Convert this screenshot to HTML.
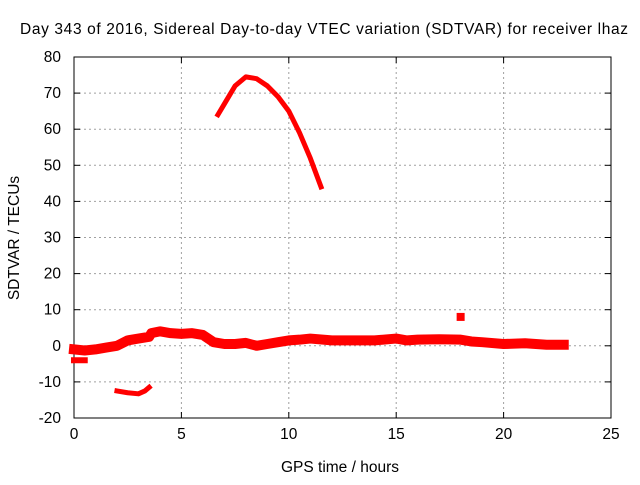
<!DOCTYPE html>
<html><head><meta charset="utf-8"><style>
body{margin:0;background:#fff}
svg text{font-family:"Liberation Sans",sans-serif;font-size:15.5px;fill:#000}
</style></head><body>
<svg id="c" width="640" height="480"></svg>
<script>
const xTicks=[0,5,10,15,20,25];
const yTicks=[-20,-10,0,10,20,30,40,50,60,70,80];
const bandHours=[0,0.5,1,1.5,2,2.5,3,3.5,3.6,4,4.5,5,5.5,6,6.5,7,7.5,8,8.5,9,9.5,10,10.5,11,12,13,14,15,15.5,16,17,18,18.5,19,20,21,22,22.8];
const bandValues=[-1,-1.3,-1,-0.5,0,1.5,2,2.5,3.5,4,3.5,3.3,3.5,3,1,0.5,0.5,0.8,0,0.5,1,1.5,1.7,2,1.5,1.5,1.5,2,1.5,1.7,1.8,1.7,1.2,1,0.5,0.7,0.3,0.3];
const lowHours=[0,0.5];
const lowValues=[-4,-4];
const dipHours=[2,2.5,3,3.3,3.5];
const dipValues=[-12.5,-13,-13.3,-12.5,-11.5];
const arcHours=[6.7,7,7.5,8,8.5,9,9.5,10,10.5,11,11.5];
const arcValues=[64,67,72,74.5,74,72,69,65,59,52,44];
const pointHours=[18];
const pointValues=[8];
const L=74,R=611,T=57,B=418;
const X=v=>L+(v-0)/25*(R-L);
const Y=v=>B-(v+20)/100*(B-T);
const s=document.getElementById('c');const NS='http://www.w3.org/2000/svg';
function el(t,a,p){const e=document.createElementNS(NS,t);for(const k in a)e.setAttribute(k,a[k]);(p||s).appendChild(e);return e;}
xTicks.forEach(v=>{
 if(v>0&&v<25){const g=el('line',{x1:X(v),x2:X(v),y1:T,y2:B,stroke:'#a0a0a0','stroke-dasharray':'2,3'});
 
 }
 el('line',{x1:X(v),x2:X(v),y1:B,y2:B-6,stroke:'#000'});el('line',{x1:X(v),x2:X(v),y1:T,y2:T+6,stroke:'#000'});
 const t=el('text',{x:X(v),y:B+21,'text-anchor':'middle'});t.textContent=v;
 
 
});
yTicks.forEach(v=>{
 if(v>-20&&v<80){const g=el('line',{x1:L,x2:R,y1:Y(v),y2:Y(v),stroke:'#a0a0a0','stroke-dasharray':'2,3'});
 
 }
 el('line',{x1:L,x2:L+6,y1:Y(v),y2:Y(v),stroke:'#000'});el('line',{x1:R,x2:R-6,y1:Y(v),y2:Y(v),stroke:'#000'});
 const t=el('text',{x:L-13,y:Y(v)+5,'text-anchor':'end'});t.textContent=v;
 
 
});
const fr=el('rect',{x:L,y:T,width:R-L,height:B-T,fill:'none',stroke:'#000'});


function series(h,v,w,name){const p=el('polyline',{points:h.map((x,i)=>X(x)+','+Y(v[i])).join(' '),fill:'none',stroke:'#f00','stroke-width':w,'stroke-linejoin':'round','stroke-linecap':'square'});
 
 }
series(bandHours,bandValues,10,'sdtvar-main-band');
series(lowHours,lowValues,6,'sdtvar-low-segment');
series(dipHours,dipValues,5,'sdtvar-dip-segment');
series(arcHours,arcValues,5,'sdtvar-arc-segment');
pointHours.forEach((h,i)=>{const r=el('rect',{x:X(h)-4,y:Y(pointValues[i])-4,width:8,height:8,fill:'#f00'});
 
 });
const tt=el('text',{x:20,y:34,'font-size':'16.8px',textLength:'608',lengthAdjust:'spacing'});tt.textContent='Day 343 of 2016, Sidereal Day-to-day VTEC variation (SDTVAR) for receiver lhaz';


const xl=el('text',{x:340,y:472,'text-anchor':'middle'});xl.textContent='GPS time / hours';


const yl=el('text',{x:19,y:238,'text-anchor':'middle',transform:'rotate(-90 19 238)'});yl.textContent='SDTVAR / TECUs';


</script>
</body></html>
